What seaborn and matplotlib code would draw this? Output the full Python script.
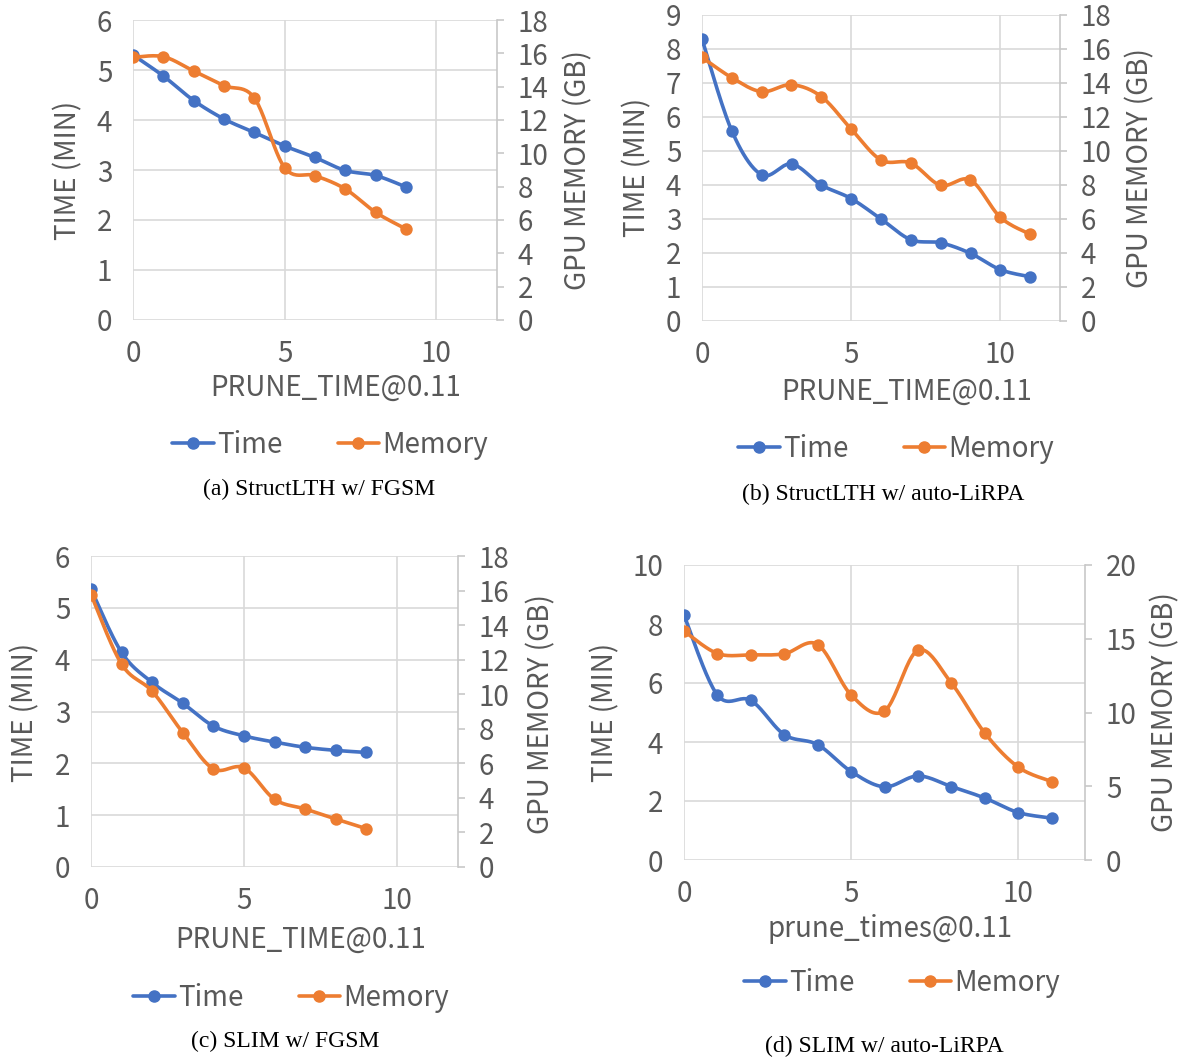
import numpy as np
import pandas as pd
import seaborn as sns
from matplotlib import pyplot as plt
from matplotlib.lines import Line2D

W, H = 1188, 1059

BLUE = '#4472C4'
ORANGE = '#ED7D31'
GREY = '#595959'
GRID = '#D9D9D9'

# (a) StructLTH w/ FGSM
a_steps = [0, 1, 2, 3, 4, 5, 6, 7, 8, 9]
a_time = [5.30, 4.88, 4.39, 4.02, 3.75, 3.48, 3.25, 2.99, 2.89, 2.66]
a_mem = [15.76, 15.80, 14.94, 14.06, 13.32, 9.14, 8.66, 7.86, 6.46, 5.46]

# (b) StructLTH w/ auto-LiRPA
b_steps = [0, 1, 2, 3, 4, 5, 6, 7, 8, 9, 10, 11]
b_time = [8.29, 5.59, 4.30, 4.62, 4.00, 3.60, 3.00, 2.39, 2.30, 1.99, 1.51, 1.30]
b_mem = [15.51, 14.31, 13.49, 13.90, 13.20, 11.29, 9.47, 9.29, 7.98, 8.29, 6.10, 5.10]

# (c) SLIM w/ FGSM
c_steps = [0, 1, 2, 3, 4, 5, 6, 7, 8, 9]
c_time = [5.36, 4.14, 3.56, 3.16, 2.72, 2.53, 2.41, 2.31, 2.25, 2.21]
c_mem = [15.77, 11.74, 10.17, 7.78, 5.68, 5.74, 3.92, 3.36, 2.78, 2.22]

# (d) SLIM w/ auto-LiRPA
d_steps = [0, 1, 2, 3, 4, 5, 6, 7, 8, 9, 10, 11]
d_time = [8.30, 5.59, 5.41, 4.25, 3.91, 3.00, 2.48, 2.85, 2.49, 2.10, 1.61, 1.42]
d_mem = [15.52, 14.00, 13.91, 13.98, 14.61, 11.19, 10.10, 14.22, 12.00, 8.61, 6.30, 5.32]

sns.set_style('white')
plt.rcParams['font.family'] = ['Noto Sans CJK SC', 'DejaVu Sans']
plt.rcParams['font.weight'] = 'light'


def smooth(x, y, n=24):
    # excel-like smoothed line: bezier through the points
    x = np.asarray(x, float)
    y = np.asarray(y, float)
    p = np.column_stack([x, y])
    p = np.vstack([p[0], p, p[-1]])
    t = np.linspace(0, 1, n)[:, None]
    out = []
    for i in range(1, len(p) - 2):
        p0, p3 = p[i], p[i + 1]
        p1 = p0 + (p[i + 1] - p[i - 1]) / 6
        p2 = p3 - (p[i + 2] - p[i]) / 6
        seg = ((1 - t) ** 3) * p0 + 3 * ((1 - t) ** 2) * t * p1 + 3 * (1 - t) * t ** 2 * p2 + t ** 3 * p3
        out.append(seg if i == 1 else seg[1:])
    out = np.vstack(out)
    return pd.DataFrame({'x': out[:, 0], 'y': out[:, 1]})


def panel(fig, box, steps, time, mem, tmax, tstep, mmax, mstep, xlabel, caption, pos):
    left, top, right, bottom = box
    ax = fig.add_axes([left / W, 1 - bottom / H, (right - left) / W, (bottom - top) / H])
    ax2 = ax.twinx()

    def frac(px, py):
        return (px - left) / (right - left), (bottom - py) / (bottom - top)

    line_t = smooth(steps, time)
    line_m = smooth(steps, mem)
    sns.lineplot(data=line_t, x='x', y='y', sort=False, estimator=None, ax=ax,
                 color=BLUE, linewidth=2.6)
    sns.scatterplot(x=steps, y=time, ax=ax, color=BLUE, s=80, linewidth=0, zorder=3)
    sns.lineplot(data=line_m, x='x', y='y', sort=False, estimator=None, ax=ax2,
                 color=ORANGE, linewidth=2.6)
    sns.scatterplot(x=steps, y=mem, ax=ax2, color=ORANGE, s=80, linewidth=0, zorder=3)

    ax.set_xlim(0, 12)
    ax.set_ylim(0, tmax)
    ax2.set_ylim(0, mmax)
    ax.set_xticks([0, 5, 10])
    ax.set_yticks(np.arange(0, tmax + 0.01, tstep))
    ax2.set_yticks(np.arange(0, mmax + 0.01, mstep))
    ax.set_yticklabels([f'{v:g}' for v in np.arange(0, tmax + 0.01, tstep)])
    ax2.set_yticklabels([f'{v:g}' for v in np.arange(0, mmax + 0.01, mstep)])

    ax.grid(True, color=GRID, linewidth=1.2)
    ax2.grid(False)
    for a in (ax, ax2):
        for s in ('left', 'top', 'bottom'):
            a.spines[s].set_visible(False)
    ax.spines['right'].set_visible(False)
    ax2.spines['right'].set_color('#C8C8C8')
    ax2.spines['right'].set_linewidth(1.2)

    ax.tick_params(axis='both', length=0, labelsize=20, labelcolor=GREY)
    ax.tick_params(axis='y', pad=15)
    ax.tick_params(axis='x', pad=14)
    ax2.tick_params(axis='y', length=5, width=1.2, color='#C8C8C8', direction='out',
                    labelsize=20, labelcolor=GREY, pad=10)

    ax.set_xlabel(xlabel, fontsize=20, color=GREY)
    ax.set_ylabel('TIME (MIN)', fontsize=20, color=GREY)
    ax2.set_ylabel('GPU MEMORY (GB)', fontsize=20, color=GREY)
    ax.xaxis.set_label_coords(*frac(*pos['xlabel']))
    ax.yaxis.set_label_coords(*frac(*pos['ylabel']))
    ax2.yaxis.set_label_coords(*frac(*pos['y2label']))
    ax.xaxis.label.set_va('center')
    ax.yaxis.label.set_va('center')
    ax2.yaxis.label.set_va('center')

    handles = [Line2D([], [], color=BLUE, marker='o', markersize=8, linewidth=2.6),
               Line2D([], [], color=ORANGE, marker='o', markersize=8, linewidth=2.6)]
    lx, ly = pos['legend']
    leg = fig.legend(handles, ['Time', 'Memory'], loc='center', ncol=2, frameon=False,
                     bbox_to_anchor=(lx / W, 1 - ly / H), fontsize=20,
                     handlelength=1.5, handletextpad=0.1, columnspacing=2.0)
    for t in leg.get_texts():
        t.set_color(GREY)

    cx, cy = pos['caption']
    fig.text(cx / W, 1 - cy / H, caption, ha='center', va='center', fontsize=17,
             family='Liberation Serif', weight='normal', color='black')


fig = plt.figure(figsize=(W / 100, H / 100), dpi=100)

panel(fig, (133, 20, 497, 320), a_steps, a_time, a_mem, 6, 1, 18, 2,
      'PRUNE_TIME@0.11', '(a) StructLTH w/ FGSM',
      {'xlabel': (336, 388), 'ylabel': (68, 170), 'y2label': (578, 170),
       'legend': (330, 445), 'caption': (319, 489)})

panel(fig, (702, 15, 1060, 321), b_steps, b_time, b_mem, 9, 1, 18, 2,
      'PRUNE_TIME@0.11', '(b) StructLTH w/ auto-LiRPA',
      {'xlabel': (907, 392), 'ylabel': (637, 167), 'y2label': (1140, 168),
       'legend': (896, 449), 'caption': (883, 494)})

panel(fig, (91, 556, 458, 867), c_steps, c_time, c_mem, 6, 1, 18, 2,
      'PRUNE_TIME@0.11', '(c) SLIM w/ FGSM',
      {'xlabel': (301, 940), 'ylabel': (25, 712), 'y2label': (541, 714),
       'legend': (291, 998), 'caption': (285, 1041)})

panel(fig, (684, 565, 1085, 860), d_steps, d_time, d_mem, 10, 2, 20, 5,
      'prune_times@0.11', '(d) SLIM w/ auto-LiRPA',
      {'xlabel': (890, 929), 'ylabel': (605, 712), 'y2label': (1165, 712),
       'legend': (902, 983), 'caption': (884, 1046)})

fig.savefig('out.png', dpi=100)
